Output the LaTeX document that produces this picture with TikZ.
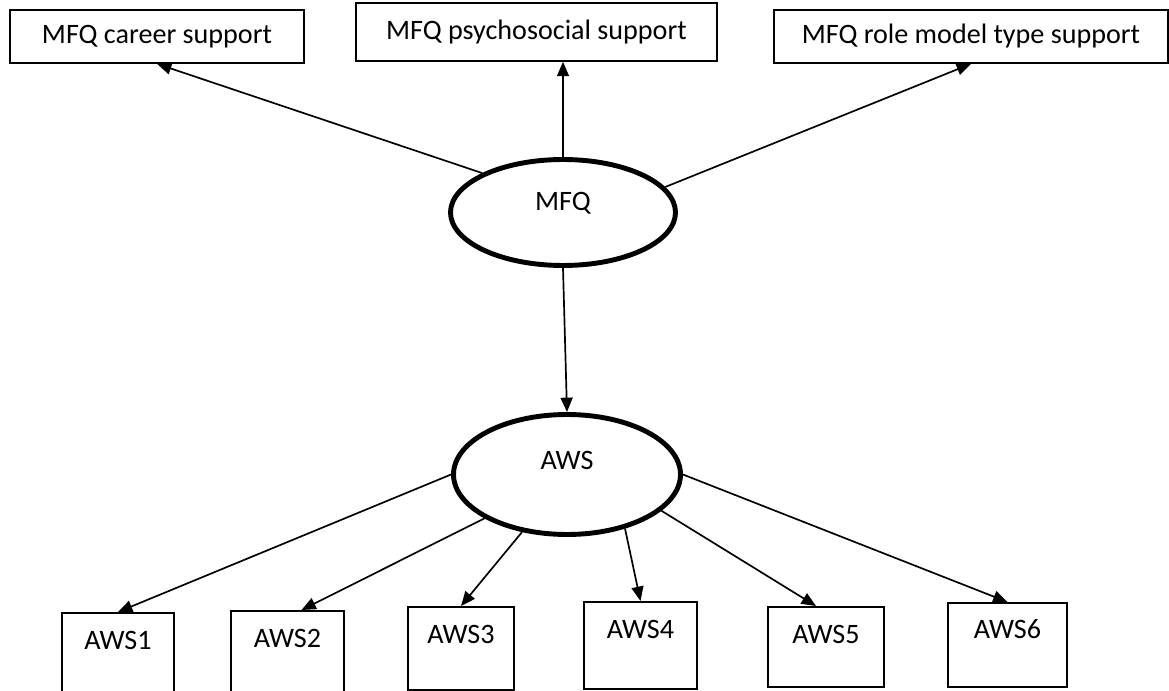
\documentclass[tikz,border=0pt]{standalone}
\usepackage{fontspec}
\setmainfont{Carlito}
\usetikzlibrary{arrows.meta, shapes.geometric}
\tikzset{
  indbox/.style={draw, line width=1.2pt, inner sep=0pt},
  latent/.style={draw, ellipse, line width=3.5pt, inner sep=0pt},
  lbl/.style={font=\fontsize{20}{24}\selectfont, inner sep=0pt},
  link/.style={line width=1.2pt, -{Triangle[length=0.36cm, width=0.3cm]}}
}
\begin{document}
\begin{tikzpicture}
  \useasboundingbox (0,0) rectangle (29.225,17.25);

  % Top indicator boxes
  \node[indbox, lbl, minimum width=7.35cm, minimum height=1.325cm] (career) at (3.925,16.3375) {MFQ career support};
  \node[indbox, lbl, minimum width=9.025cm, minimum height=1.45cm] (psycho) at (13.4125,16.45) {MFQ psychosocial support};
  \node[indbox, lbl, minimum width=9.85cm, minimum height=1.325cm] (role) at (24.275,16.3375) {MFQ role model type support};

  % Latent variables
  \node[latent, minimum width=5.625cm, minimum height=2.65cm] (mfq) at (14.075,11.9375) {};
  \node[lbl] (mfqtext) at ([yshift=0.24cm]mfq.center) {MFQ};
  \node[latent, minimum width=5.675cm, minimum height=3.0cm] (aws) at (14.175,5.3875) {};
  \node[lbl] (awstext) at ([yshift=0.36cm]aws.center) {AWS};

  % Bottom indicator boxes
  \node[indbox, anchor=north, minimum width=2.8cm, minimum height=2.0cm] (aws1) at (2.95,1.95) {};
  \node[indbox, anchor=north, minimum width=2.825cm, minimum height=2.05cm] (aws2) at (7.1875,2.0) {};
  \node[indbox, anchor=north, minimum width=2.65cm, minimum height=2.075cm] (aws3) at (11.525,2.1) {};
  \node[indbox, anchor=north, minimum width=2.825cm, minimum height=2.175cm] (aws4) at (16.0125,2.225) {};
  \node[indbox, anchor=north, minimum width=2.9cm, minimum height=2.0cm] (aws5) at (20.65,2.1) {};
  \node[indbox, anchor=north, minimum width=2.975cm, minimum height=2.1cm] (aws6) at (25.1875,2.2) {};
  \node[lbl] (aws1text) at ([yshift=-0.7cm]aws1.north) {AWS1};
  \node[lbl] (aws2text) at ([yshift=-0.7cm]aws2.north) {AWS2};
  \node[lbl] (aws3text) at ([yshift=-0.7cm]aws3.north) {AWS3};
  \node[lbl] (aws4text) at ([yshift=-0.72cm]aws4.north) {AWS4};
  \node[lbl] (aws5text) at ([yshift=-0.72cm]aws5.north) {AWS5};
  \node[lbl] (aws6text) at ([yshift=-0.68cm]aws6.north) {AWS6};

  % MFQ loadings
  \draw[link] (mfq.154) -- (career.south);
  \draw[link] (mfq.north) -- (mfq.north |- psycho.south);
  \draw[link] (mfq.14) -- (role.south);

  % Structural path
  \draw[link] (mfq.south) -- (aws.north);

  % AWS loadings
  \draw[link] (aws.west) -- (aws1.north);
  \draw[link] (aws.208) -- ([xshift=0.35cm]aws2.north);
  \draw[link] (aws.232) -- (aws3.north);
  \draw[link] (aws.317) -- (aws4.north);
  \draw[link] (aws.339) -- ([xshift=-0.25cm]aws5.north);
  \draw[link] (aws.east) -- (aws6.north);
\end{tikzpicture}
\end{document}
